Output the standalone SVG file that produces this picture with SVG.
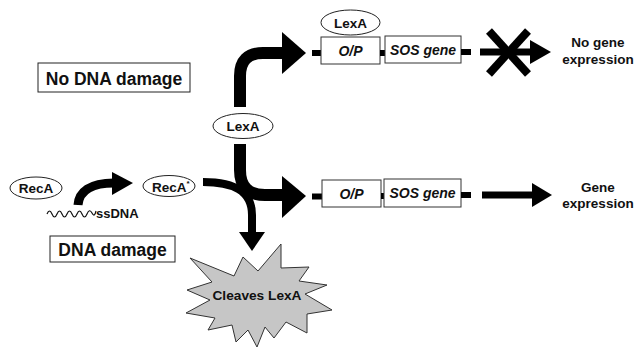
<svg xmlns="http://www.w3.org/2000/svg" width="637" height="347" viewBox="0 0 637 347">
<style>
text{font-family:"Liberation Sans",Arial,Helvetica,sans-serif;font-weight:bold;fill:#111}
.lbl{stroke:#222;stroke-width:1;fill:#fff}
.ell{stroke:#222;stroke-width:1;fill:#fff}
.box{stroke:#333;stroke-width:1;fill:#fff}
.shaft{fill:none;stroke:#000;stroke-linecap:butt}
.head{fill:#000}
.dash{stroke:#000;stroke-width:6}
.gt{font-style:italic;font-size:14px}
</style>
<rect width="637" height="347" fill="#fff"/>

<g id="connectors">
  <!-- RecA -> RecA* curved arrow -->
  <path class="shaft" d="M78,205 C79,192 90,183 114,183" stroke-width="9"/>
  <polygon class="head" points="112,172 133,183 112,195"/>
  <!-- upper branch (no DNA damage) -->
  <path class="shaft" d="M240,107 L240,76 Q240,53 263,53 L284,53" stroke-width="12"/>
  <polygon class="head" points="282,32 306,53 282,74"/>
  <!-- lower branch (DNA damage) -->
  <path class="shaft" d="M240,144 L240,170 Q240,195 265,195 L284,195" stroke-width="12"/>
  <polygon class="head" points="282,176 306,196 282,218"/>
  <!-- RecA* -> cleaves LexA -->
  <path class="shaft" d="M203,182 C232,182 252,190 252,215 L252,234" stroke-width="8"/>
  <polygon class="head" points="239,232 265,232 252,251"/>
  <!-- upper expression arrow (blocked) -->
  <line class="shaft" x1="480" y1="52" x2="532" y2="52" stroke-width="7"/>
  <polygon class="head" points="530,40 551,52 530,64"/>
  <line x1="489" y1="31" x2="528" y2="74" stroke="#000" stroke-width="8"/>
  <line x1="528" y1="31" x2="489" y2="74" stroke="#000" stroke-width="8"/>
  <!-- lower expression arrow -->
  <line class="shaft" x1="482" y1="195" x2="534" y2="195" stroke-width="7"/>
  <polygon class="head" points="532,183 552,195 532,207"/>
</g>

<g id="no-dna-damage">
  <rect class="lbl" x="38" y="63" width="152" height="29"/>
  <text x="114" y="85" font-size="17.5" text-anchor="middle">No DNA damage</text>
</g>

<g id="dna-damage">
  <rect class="lbl" x="50" y="236" width="125" height="26"/>
  <text x="112.5" y="256" font-size="17.5" text-anchor="middle">DNA damage</text>
</g>

<g id="reca">
  <ellipse class="ell" cx="36" cy="188" rx="26" ry="11"/>
  <text x="36" y="193" font-size="13.5" text-anchor="middle">RecA</text>
</g>

<g id="ssdna">
  <path d="M47,214 q2.5,-6 5,0 t5,0 t5,0 t5,0 t5,0 t5,0 t5,0 t5,0 t5,-1 t4,-2" fill="none" stroke="#111" stroke-width="1.2"/>
  <text x="96" y="218" font-size="13">ssDNA</text>
</g>

<g id="reca-star">
  <ellipse class="ell" cx="169" cy="186" rx="26" ry="10.5"/>
  <text x="152" y="191.5" font-size="13.5">RecA<tspan font-size="8" dy="-6">*</tspan></text>
</g>

<g id="lexa-mid">
  <ellipse class="ell" cx="243" cy="126" rx="30" ry="12.5"/>
  <text x="243" y="131" font-size="13.5" text-anchor="middle">LexA</text>
</g>

<g id="gene-upper">
  <line class="dash" x1="312" y1="53" x2="321" y2="53"/>
  <rect class="box" x="321" y="37" width="59" height="27"/>
  <line class="dash" x1="380" y1="53" x2="385" y2="53"/>
  <rect class="box" x="385" y="36" width="76" height="27"/>
  <line class="dash" x1="461" y1="52" x2="471" y2="52"/>
  <text class="gt" x="350.5" y="55.5" font-size="13.5" text-anchor="middle">O/P</text>
  <text class="gt" x="423" y="55" text-anchor="middle">SOS gene</text>
</g>

<g id="lexa-bound">
  <ellipse class="ell" cx="350.5" cy="22.5" rx="29.5" ry="12.5"/>
  <text x="350.5" y="28" font-size="13.5" text-anchor="middle">LexA</text>
</g>

<g id="no-expression">
  <text x="598" y="47" font-size="13.5" text-anchor="middle">No gene</text>
  <text x="598" y="64" font-size="13.5" text-anchor="middle">expression</text>
</g>

<g id="gene-lower">
  <line class="dash" x1="312" y1="196.5" x2="322" y2="196.5"/>
  <rect class="box" x="322" y="180" width="59" height="27"/>
  <line class="dash" x1="381" y1="196" x2="384" y2="196"/>
  <rect class="box" x="384" y="179" width="77" height="28"/>
  <line class="dash" x1="461" y1="195" x2="471" y2="195"/>
  <text class="gt" x="351.5" y="198.5" font-size="13.5" text-anchor="middle">O/P</text>
  <text class="gt" x="422.5" y="198" text-anchor="middle">SOS gene</text>
</g>

<g id="expression">
  <text x="598" y="192" font-size="13.5" text-anchor="middle">Gene</text>
  <text x="598" y="208" font-size="13.5" text-anchor="middle">expression</text>
</g>

<g id="cleaves-lexa">
  <polygon points="190,258 234,276 243,257 258,271 281,244 281,268 309,267 299,281 327,285 305,294 332,310 307,314 307,333 286,322 274,338 265,327 257,347 248,330 236,342 232,325 208,330 215,318 186,313 210,300 187,290 212,282" fill="#c6c6c6" stroke="#333" stroke-width="1"/>
  <text x="257" y="300" font-size="13.7" text-anchor="middle">Cleaves LexA</text>
</g>
</svg>
